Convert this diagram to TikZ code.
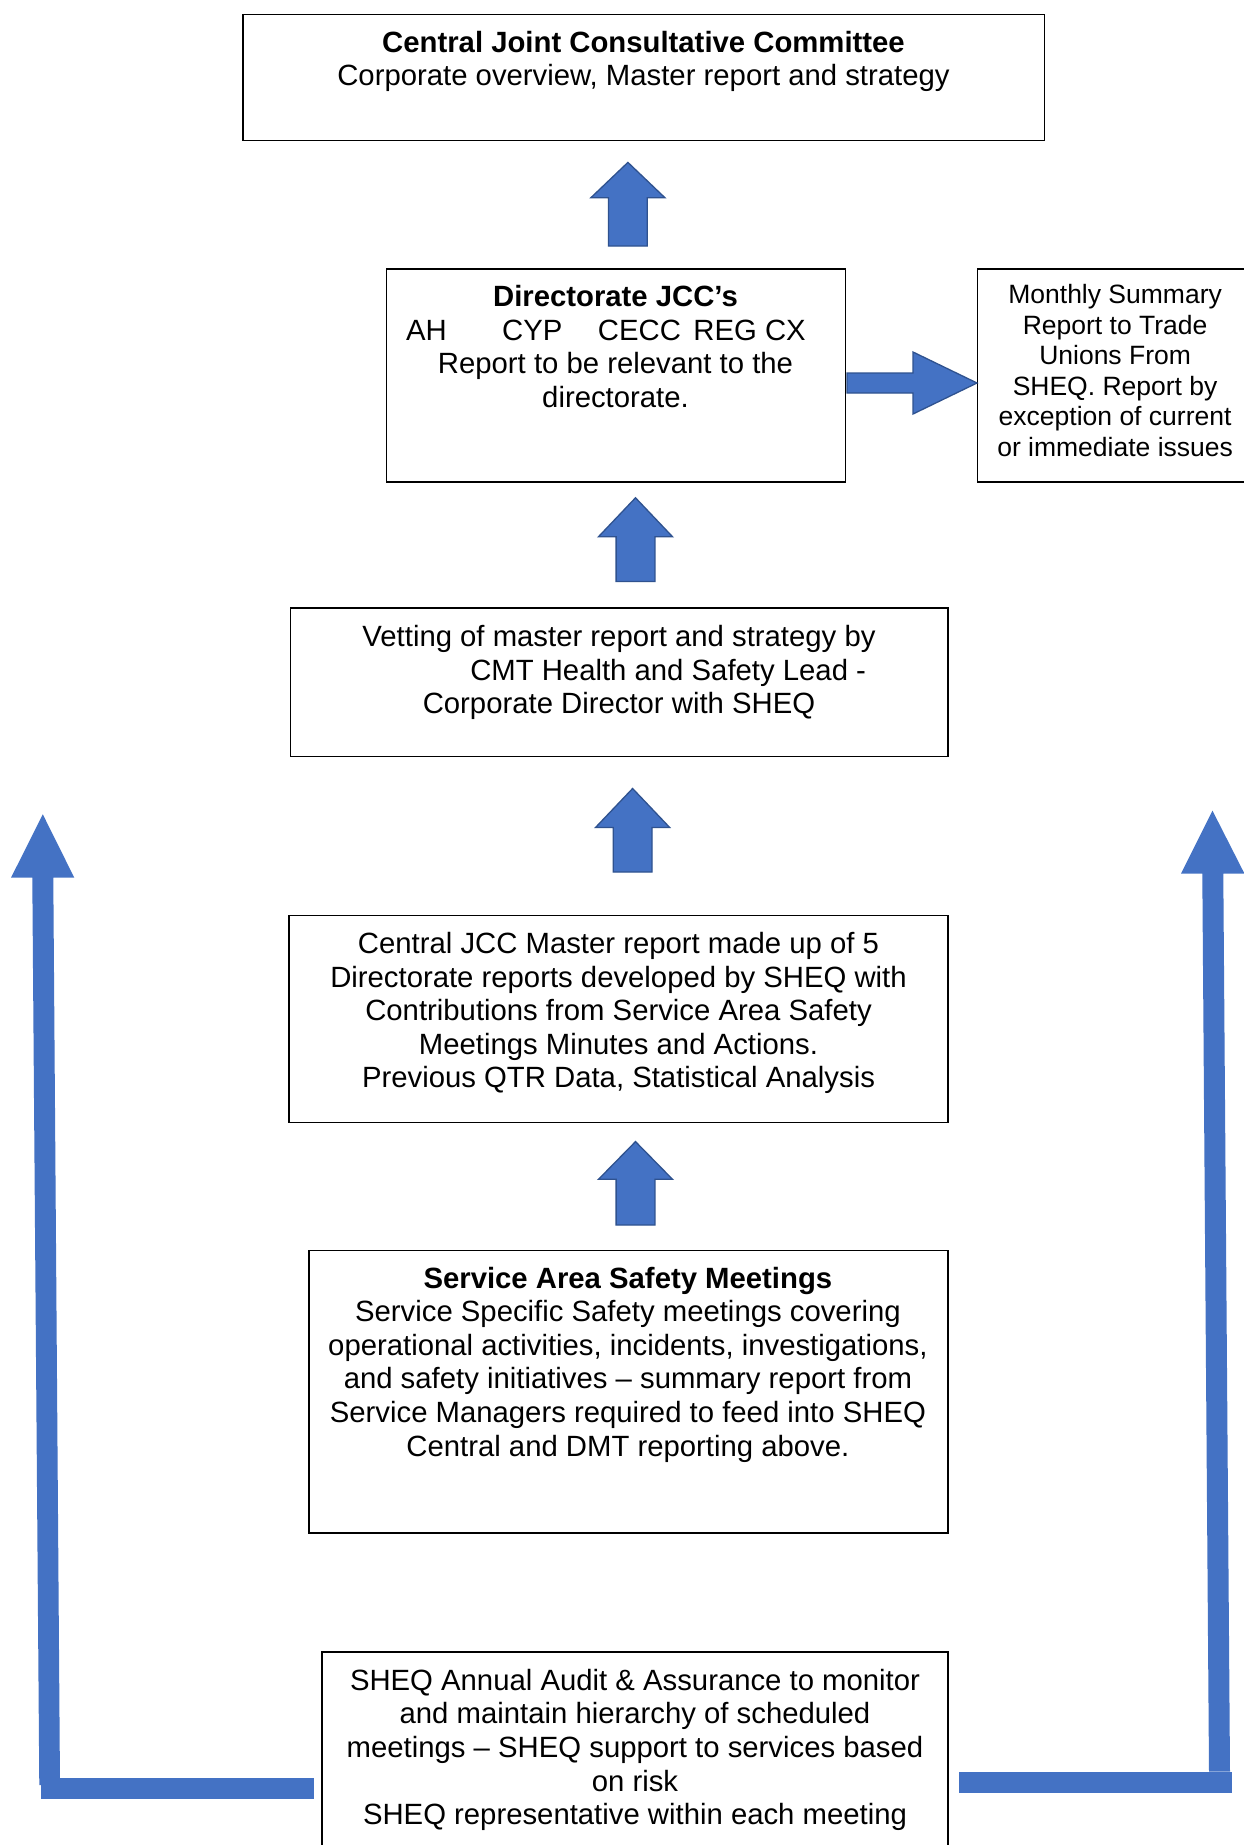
\documentclass[tikz,border=0pt]{standalone}
\usepackage{fontspec}
\setmainfont{Liberation Sans}
\definecolor{ablue}{HTML}{4472C4}
\definecolor{aedge}{HTML}{2F528F}
\tikzset{
 boxnode/.style={draw=black, line width=1.3pt, inner sep=0pt, anchor=north west},
 txt/.style={align=center, inner sep=0pt, font=\fontsize{29.3}{33.6}\selectfont},
 smalltxt/.style={align=center, inner sep=0pt, font=\fontsize{26.5}{30.6}\selectfont},
 blk/.style={fill=ablue, draw=aedge, line width=1.3pt, line join=miter},
 bigblk/.style={fill=ablue, draw=none},
}
\newcommand\blkup[4]{%
 \filldraw[blk] (#1,#2) -- (#1+37,#3) -- (#1+19.4,#3) -- (#1+19.4,#4) -- (#1-19.4,#4) -- (#1-19.4,#3) -- (#1-37,#3) -- cycle;}
\begin{document}
\begin{tikzpicture}[x=1pt,y=-1pt]
\useasboundingbox (0,0) rectangle (1244,1845);
\fill[white] (0,0) rectangle (1244,1845);

% boxes
\node[boxnode, minimum width=801.5pt, minimum height=126pt] (b1) at (242.4,14.1) {};
\node[boxnode, minimum width=459pt, minimum height=213.1pt] (b2) at (386,268.3) {};
\node[boxnode, minimum width=277.2pt, minimum height=213.1pt] (b3) at (976.8,268.3) {};
\node[boxnode, minimum width=657.9pt, minimum height=148.3pt] (b4) at (289.5,607.3) {};
\node[boxnode, minimum width=659.1pt, minimum height=207.1pt] (b5) at (288.3,914.5) {};
\node[boxnode, minimum width=639.1pt, minimum height=282.4pt] (b6) at (308.3,1249.9) {};
\node[boxnode, minimum width=626.1pt, minimum height=210pt] (b7) at (321.3,1651.2) {};

% texts
\node[txt] (t1) at (643.5,61.5) {{\bfseries Central Joint Consultative Committee}\\Corporate overview, Master report and strategy};
\node[txt] (t2) at (615.5,346.6) {{\bfseries Directorate JCC’s}\\\makebox[419pt][l]{AH\hspace{55.5pt}CYP\hspace{35.5pt}CECC\hspace{12.5pt}REG CX}\\Report to be relevant to the\\directorate.};
\node[smalltxt] (t3) at (1115.1,370.6) {Monthly Summary\\Report to Trade\\Unions From\\SHEQ. Report by\\exception of current\\or immediate issues};
\node[txt] (t4) at (619,672.7) {Vetting of master report and strategy by\\\makebox[494pt][r]{CMT Health and Safety Lead -}\\Corporate Director with SHEQ};
\node[txt] (t5) at (618.5,1013.2) {Central JCC Master report made up of 5\\Directorate reports developed by SHEQ with\\Contributions from Service Area Safety\\Meetings Minutes and Actions.\\Previous QTR Data, Statistical Analysis};
\node[txt] (t6) at (627.9,1364.5) {{\bfseries Service Area Safety Meetings}\\Service Specific Safety meetings covering\\operational activities, incidents, investigations,\\and safety initiatives – summary report from\\Service Managers required to feed into SHEQ\\Central and DMT reporting above.};
\node[txt] (t7) at (635,1750) {SHEQ Annual Audit \& Assurance to monitor\\and maintain hierarchy of scheduled\\meetings – SHEQ support to services based\\on risk\\SHEQ representative within each meeting};

% small block arrows
\blkup{627.9}{162.4}{197.7}{246}
\blkup{635.5}{497.8}{536.7}{581.4}
\blkup{632.6}{788.5}{827.4}{872}
\blkup{635.5}{1141.6}{1179.3}{1225}

% right block arrow from b2 to b3
\filldraw[blk] (847,373) -- (913,373) -- (913,352) -- (977,383) -- (913,414) -- (913,393) -- (847,393) -- cycle;

% big left arrow
\fill[bigblk] (39.3,1785) -- (60,1785) -- (53.3,877.7) -- (74.3,877.7) -- (42.8,814.3) -- (11,877.7) -- (32.3,877.7) -- cycle;
\fill[bigblk] (41.3,1777.7) rectangle (314.3,1799);

% big right arrow
\fill[bigblk] (1209,1771.7) -- (1230,1771.7) -- (1223.3,873.7) -- (1244.5,873.7) -- (1212.5,810.7) -- (1181,873.7) -- (1202.3,873.7) -- cycle;
\fill[bigblk] (959.3,1771.7) rectangle (1232.3,1792.7);
\end{tikzpicture}
\end{document}
